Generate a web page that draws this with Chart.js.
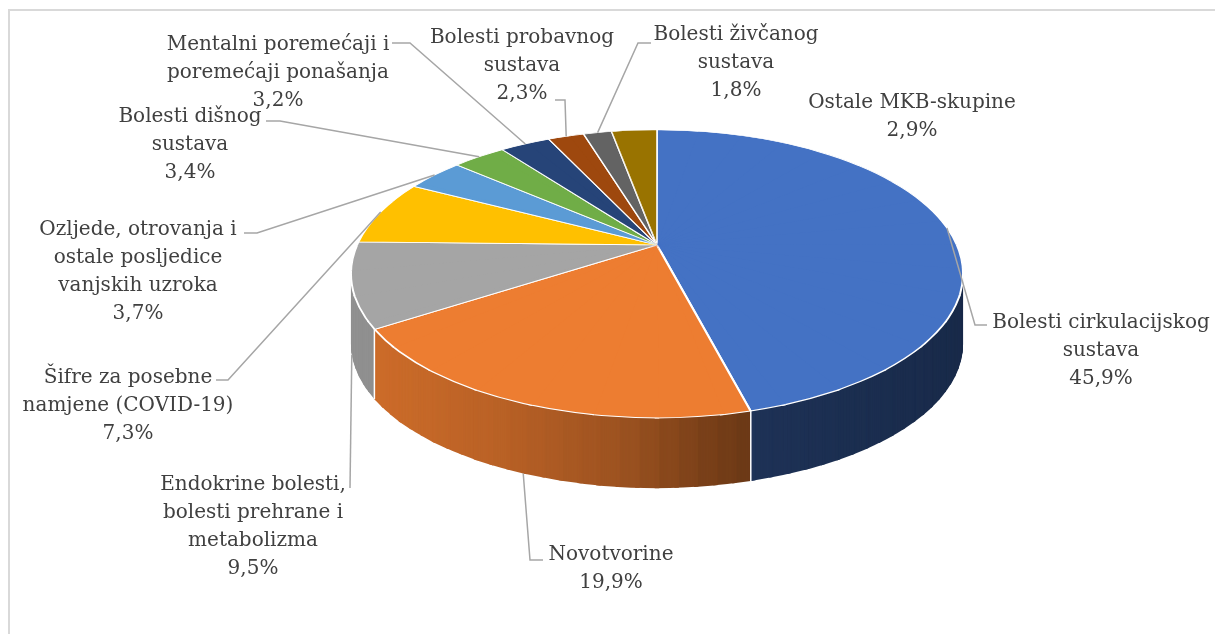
<!DOCTYPE html>
<html>
<head>
<meta charset="utf-8">
<script src="https://cdn.jsdelivr.net/npm/chart.js@4.4.1/dist/chart.umd.min.js"></script>
<style>
  html, body { margin: 0; padding: 0; background: #fff; }
  canvas { display: block; }
</style>
</head>
<body>
<canvas id="piechart" width="1215" height="634"></canvas>
<script>
const categories = [
  'Bolesti cirkulacijskog sustava',
  'Novotvorine',
  'Endokrine bolesti, bolesti prehrane i metabolizma',
  'Šifre za posebne namjene (COVID-19)',
  'Ozljede, otrovanja i ostale posljedice vanjskih uzroka',
  'Bolesti dišnog sustava',
  'Mentalni poremećaji i poremećaji ponašanja',
  'Bolesti probavnog sustava',
  'Bolesti živčanog sustava',
  'Ostale MKB-skupine'
];
const shares = [45.9, 19.9, 9.5, 7.3, 3.7, 3.4, 3.2, 2.3, 1.8, 2.9];
const sliceColors = ['#4472C4', '#ED7D31', '#A5A5A5', '#FFC000', '#5B9BD5',
                     '#70AD47', '#264478', '#9E480E', '#636363', '#997300'];

// how Excel wrapped each data label
const labelLines = [
  ['Bolesti cirkulacijskog', 'sustava'],
  ['Novotvorine'],
  ['Endokrine bolesti,', 'bolesti prehrane i', 'metabolizma'],
  ['Šifre za posebne', 'namjene (COVID-19)'],
  ['Ozljede, otrovanja i', 'ostale posljedice', 'vanjskih uzroka'],
  ['Bolesti dišnog', 'sustava'],
  ['Mentalni poremećaji i', 'poremećaji ponašanja'],
  ['Bolesti probavnog', 'sustava'],
  ['Bolesti živčanog', 'sustava'],
  ['Ostale MKB-skupine']
];

// label placement: text centre x, first baseline y, leader bend points
const labelPlace = [
  { x: 1101, y: 328, leader: [[975, 325], [987, 325]] },
  { x: 611, y: 560, leader: [[530, 560], [543, 560]] },
  { x: 253, y: 490, leader: [[350, 488]] },
  { x: 128, y: 383, leader: [[228, 380], [216, 380]] },
  { x: 138, y: 235, leader: [[257, 233], [244, 233]] },
  { x: 190, y: 122, leader: [[280, 121], [266, 121]] },
  { x: 278, y: 50, leader: [[410, 43], [392, 43]] },
  { x: 522, y: 43, leader: [[565, 100], [555, 100]] },
  { x: 736, y: 40, leader: [[638, 43], [651, 43]] },
  { x: 912, y: 108, leader: null }
];

// 3D look: perspective of the pie top, depth of the side wall
const VIEW = { cx: 657, cy: 245, a: 299.8, b: 138.2, p: 0.201, depth: 70 };
const WALL_WEDGES = 120;
const TOP_WEDGES = 36;

function project(angle, f = 1) {
  const u = f * Math.cos(angle), v = f * Math.sin(angle);
  const den = 1 - VIEW.p * v;
  return [VIEW.cx + VIEW.a * u / den, VIEW.cy + VIEW.b * v / den];
}

// side wall gets darker to the right
const wallLight = [[352, 0.88], [500, 0.78], [620, 0.66], [700, 0.52], [760, 0.44], [963, 0.38]];
function wallFactor(x) {
  if (x <= wallLight[0][0]) return wallLight[0][1];
  for (let i = 1; i < wallLight.length; i++) {
    const [x0, f0] = wallLight[i - 1], [x1, f1] = wallLight[i];
    if (x <= x1) return f0 + (f1 - f0) * (x - x0) / (x1 - x0);
  }
  return wallLight[wallLight.length - 1][1];
}
function shade(hex, f) {
  const n = parseInt(hex.slice(1), 16);
  const r = Math.round(((n >> 16) & 255) * f);
  const g = Math.round(((n >> 8) & 255) * f);
  const b = Math.round((n & 255) * f);
  return `rgb(${r},${g},${b})`;
}

function drawWith(ctx, arc, changes) {
  const opts = arc.options;
  arc.options = Object.assign({}, opts, changes);
  arc.draw(ctx);
  arc.options = opts;
}

// each wedge of the flat pie is mapped to the tilted one by its own affine transform
function makeWedges(count, ox, oy, R) {
  const step = 2 * Math.PI / count;
  const wedges = [];
  for (let k = 0; k < count; k++) {
    const a1 = -Math.PI / 2 + k * step, a2 = a1 + step;
    const e1x = R * Math.cos(a1), e1y = R * Math.sin(a1);
    const e2x = R * Math.cos(a2), e2y = R * Math.sin(a2);
    const d1 = project(a1), d2 = project(a2);
    const f1x = d1[0] - VIEW.cx, f1y = d1[1] - VIEW.cy;
    const f2x = d2[0] - VIEW.cx, f2y = d2[1] - VIEW.cy;
    const det = e1x * e2y - e2x * e1y;
    const m11 = (f1x * e2y - f2x * e1y) / det;
    const m12 = (f2x * e1x - f1x * e2x) / det;
    const m21 = (f1y * e2y - f2y * e1y) / det;
    const m22 = (f2y * e1x - f1y * e2x) / det;
    const mid = project((a1 + a2) / 2);
    wedges.push({
      a1, a2,
      m: [m11, m21, m12, m22, VIEW.cx - (m11 * ox + m12 * oy), VIEW.cy - (m21 * ox + m22 * oy)],
      light: wallFactor(mid[0]),
      front: Math.sin((a1 + a2) / 2) > -0.35
    });
  }
  return wedges;
}

const pie3d = {
  id: 'pie3d',
  beforeDatasetsDraw(chart) {
    const ctx = chart.ctx;
    const arcs = chart.getDatasetMeta(0).data;
    const ox = arcs[0].x, oy = arcs[0].y, R = arcs[0].outerRadius;
    const eps = 0.006;

    function drawWedge(w, shift, wall) {
      ctx.save();
      ctx.setTransform(w.m[0], w.m[1], w.m[2], w.m[3], w.m[4], w.m[5] + shift);
      ctx.beginPath();
      ctx.moveTo(ox, oy);
      ctx.lineTo(ox + 1.25 * R * Math.cos(w.a1 - eps), oy + 1.25 * R * Math.sin(w.a1 - eps));
      ctx.lineTo(ox + 1.25 * R * Math.cos(w.a2 + eps), oy + 1.25 * R * Math.sin(w.a2 + eps));
      ctx.closePath();
      ctx.clip();
      arcs.forEach((arc, i) => {
        if (arc.endAngle < w.a1 - eps || arc.startAngle > w.a2 + eps) return;
        if (wall) {
          drawWith(ctx, arc, { backgroundColor: shade(sliceColors[i], w.light), borderWidth: 0 });
        } else {
          arc.draw(ctx);
        }
      });
      ctx.restore();
    }

    // side wall
    const wallWedges = makeWedges(WALL_WEDGES, ox, oy, R);
    for (let d = VIEW.depth; d >= 1; d--) {
      for (const w of wallWedges) {
        if (w.front) drawWedge(w, d, true);
      }
    }

    // white seams on the wall between slices
    ctx.save();
    ctx.strokeStyle = '#ffffff';
    ctx.lineWidth = 1.5;
    arcs.forEach(arc => {
      const b = arc.startAngle;
      if (Math.sin(b) <= 0) return;
      const [x, y] = project(b);
      ctx.beginPath();
      ctx.moveTo(x, y);
      ctx.lineTo(x, y + VIEW.depth);
      ctx.stroke();
    });
    ctx.restore();

    // smaller flat underlay hides the wedge seams near the centre
    ctx.save();
    ctx.setTransform(265 / R, 0, 0, 100 / R, VIEW.cx - 265 / R * ox, VIEW.cy - 100 / R * oy);
    arcs.forEach(arc => drawWith(ctx, arc, { borderWidth: 0 }));
    ctx.restore();

    // top surface
    for (const w of makeWedges(TOP_WEDGES, ox, oy, R)) drawWedge(w, 0, false);
    return false;
  },
  afterDraw(chart) {
    const ctx = chart.ctx;
    const arcs = chart.getDatasetMeta(0).data;
    ctx.save();

    // chart frame
    ctx.strokeStyle = '#d9d9d9';
    ctx.lineWidth = 2;
    ctx.strokeRect(9, 10, 1300, 700);

    // leader lines
    ctx.strokeStyle = '#a6a6a6';
    ctx.lineWidth = 1.5;
    arcs.forEach((arc, i) => {
      const place = labelPlace[i];
      if (!place.leader) return;
      const mid = (arc.startAngle + arc.endAngle) / 2;
      let [x, y] = project(mid);
      if (Math.sin(mid) > 0) y += VIEW.depth;
      ctx.beginPath();
      ctx.moveTo(x, y);
      place.leader.forEach(pt => ctx.lineTo(pt[0], pt[1]));
      ctx.stroke();
    });

    // label text
    ctx.fillStyle = '#404040';
    ctx.font = '20px "DejaVu Serif"';
    ctx.textAlign = 'center';
    ctx.textBaseline = 'alphabetic';
    labelLines.forEach((lines, i) => {
      const place = labelPlace[i];
      const pct = shares[i].toFixed(1).replace('.', ',') + '%';
      lines.concat([pct]).forEach((t, j) => {
        ctx.fillText(t, place.x, place.y + j * 28);
      });
    });
    ctx.restore();
  }
};

new Chart(document.getElementById('piechart'), {
  type: 'pie',
  data: {
    labels: categories,
    datasets: [{
      data: shares,
      backgroundColor: sliceColors,
      borderColor: '#ffffff',
      borderWidth: 2
    }]
  },
  options: {
    responsive: false,
    animation: false,
    events: [],
    plugins: {
      legend: { display: false },
      tooltip: { enabled: false }
    }
  },
  plugins: [pie3d]
});
</script>
</body>
</html>
